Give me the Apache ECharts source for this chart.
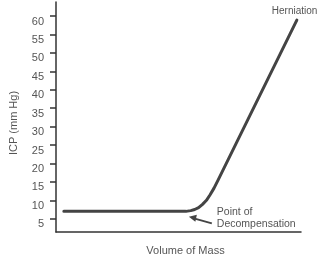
<!DOCTYPE html>
<html><head><meta charset="utf-8">
<script src="https://cdn.jsdelivr.net/npm/echarts@6/dist/echarts.min.js"></script>
<style>html,body{margin:0;padding:0;background:#fff}#c{width:318px;height:261px}</style>
</head><body><div id="c"></div>
<script>
const yTicks = [5,10,15,20,25,30,35,40,45,50,55,60];
const volume = [3.2, 20, 40, 53, 55, 56.6, 58.2, 59.8, 61.4, 62.9, 64.5, 66.1, 98.3];
const icp    = [7,   7,  7,  7,  7.2, 7.5,  8.0,  8.9,  10.0, 11.5, 13.3, 15.4, 58.9];
const yTitle = 'ICP (mm Hg)';
const xTitle = 'Volume of Mass';
const topNote = 'Herniation';
const decompNote = ['Point of', 'Decompensation'];
const decompIndex = 3;

const font = '"Liberation Sans", Arial, sans-serif';
const chart = echarts.init(document.getElementById('c'));
chart.setOption({
  animation: false,
  grid: {left: 50, right: 17, top: 2, bottom: 29},
  xAxis: {
    type: 'value', min: 0, max: 100,
    axisLine: {show: true, lineStyle: {color: '#333', width: 1.5}},
    axisTick: {show: false}, axisLabel: {show: false}, splitLine: {show: false},
    name: xTitle, nameLocation: 'middle', nameGap: 13,
    nameTextStyle: {color: '#555', fontSize: 11, fontFamily: font, padding: [0, 0, 0, 14]}
  },
  yAxis: {
    type: 'value', min: 1.4, max: 63.8,
    axisLine: {show: true, lineStyle: {color: '#333', width: 1.5}},
    axisTick: {show: true, customValues: yTicks, length: 6, lineStyle: {color: '#333', width: 1.5}},
    axisLabel: {customValues: yTicks, color: '#555', fontSize: 11, fontFamily: font, margin: 12, verticalAlign: 'top'},
    splitLine: {show: false},
    name: yTitle, nameLocation: 'middle', nameRotate: 90, nameGap: 37,
    nameTextStyle: {color: '#555', fontSize: 11, fontFamily: font, padding: [0, 0, 0, -12]}
  },
  series: [{
    type: 'line', data: volume.map((v, i) => [v, icp[i]]),
    smooth: false, symbol: 'none',
    lineStyle: {color: '#444', width: 3, join: 'round', cap: 'round'}
  }]
});

const tp = chart.convertToPixel({gridIndex: 0}, [volume[volume.length - 1], icp[icp.length - 1]]);
const dp = chart.convertToPixel({gridIndex: 0}, [volume[decompIndex], icp[decompIndex]]);
chart.setOption({
  graphic: [
    {type: 'text', left: tp[0] - 25, top: tp[1] - 14,
     style: {text: topNote, fill: '#555', font: '10px ' + font}},
    {type: 'text', left: dp[0] + 31, top: dp[1] - 5,
     style: {text: decompNote.join('\n'), fill: '#555', font: '10.5px ' + font, lineHeight: 12}},
    {type: 'line', shape: {x1: dp[0] + 26, y1: dp[1] + 12, x2: dp[0] + 8, y2: dp[1] + 7},
     style: {stroke: '#444', lineWidth: 2}},
    {type: 'polygon', shape: {points: [[dp[0] + 3, dp[1] + 5.5], [dp[0] + 11, dp[1] + 3.5], [dp[0] + 9.5, dp[1] + 10.5]]},
     style: {fill: '#444'}}
  ]
});
</script></body></html>
